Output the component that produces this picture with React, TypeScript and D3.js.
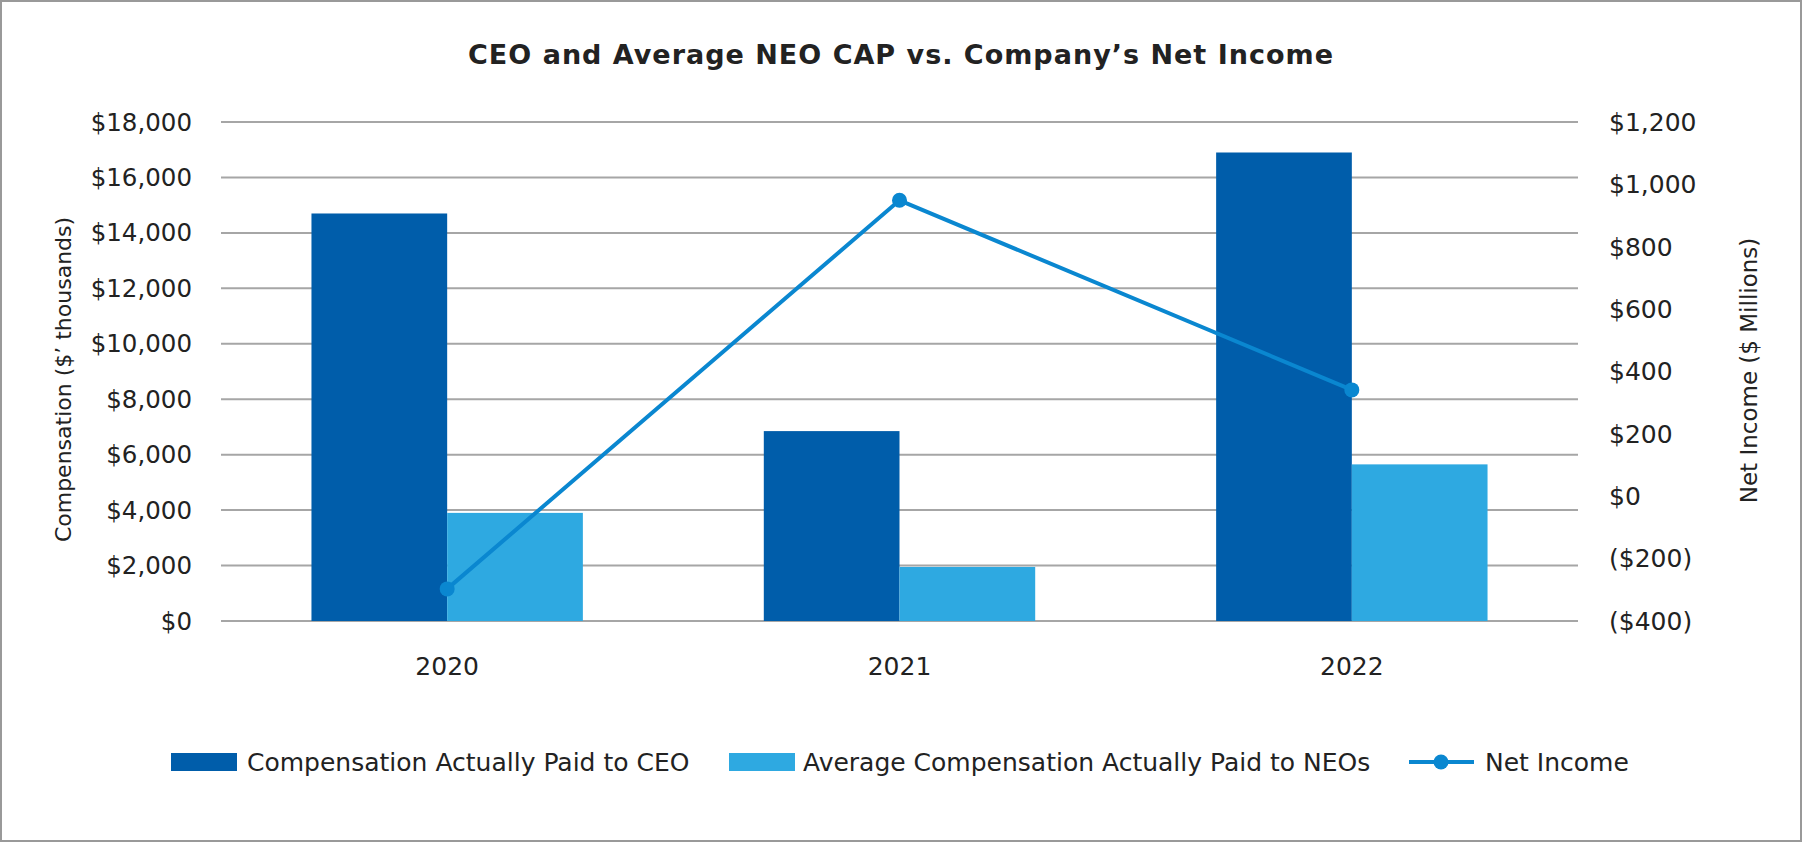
import React from "react";
import * as d3 from "d3";

// values
const years = ["2020", "2021", "2022"];
const ceoCap = [14700, 6850, 16900];
const neoCap = [3900, 1950, 5650];
const netIncome = [-297, 949, 341];

const leftTicks = [0, 2000, 4000, 6000, 8000, 10000, 12000, 14000, 16000, 18000];
const rightTicks = [-400, -200, 0, 200, 400, 600, 800, 1000, 1200];

const seriesNames = [
  "Compensation Actually Paid to CEO",
  "Average Compensation Actually Paid to NEOs",
  "Net Income",
];

const W = 1802;
const H = 842;
const FONT = "'DejaVu Sans', Verdana, sans-serif";
const CEO_COLOR = "#005DAA";
const NEO_COLOR = "#2EA9E1";
const LINE_COLOR = "#0A87D0";

const margin = { top: 122, right: 224, bottom: 221, left: 221 };

const fmtLeft = (v: number) => "$" + d3.format(",")(v);
const fmtRight = (v: number) =>
  v < 0 ? "($" + d3.format(",")(-v) + ")" : "$" + d3.format(",")(v);

const App = () => {
  const x = d3
    .scaleBand()
    .domain(years)
    .range([margin.left, W - margin.right])
    .paddingInner(0.4)
    .paddingOuter(0.2);

  const yL = d3
    .scaleLinear()
    .domain([0, 18000])
    .range([H - margin.bottom, margin.top]);

  const yR = d3
    .scaleLinear()
    .domain([-400, 1200])
    .range([H - margin.bottom, margin.top]);

  const bw = x.bandwidth() / 2;
  const cx = (y: string) => (x(y) as number) + x.bandwidth() / 2;

  const line = d3
    .line<number>()
    .x((_, i) => cx(years[i]))
    .y((d) => yR(d));

  return (
    <svg
      width={W}
      height={H}
      style={{ position: "absolute", left: 0, top: 0, background: "#fff" }}
      fontFamily={FONT}
    >
      <rect x={1} y={1} width={W - 2} height={H - 2} fill="#fff" stroke="#999" strokeWidth={2} />

      <text
        x={W / 2}
        y={64}
        textAnchor="middle"
        fontSize={27}
        fontWeight="bold"
        letterSpacing={1}
        fill="#222"
      >
        CEO and Average NEO CAP vs. Company’s Net Income
      </text>

      {/* gridlines */}
      {leftTicks.map((t) => (
        <line
          key={t}
          x1={margin.left}
          x2={W - margin.right}
          y1={yL(t)}
          y2={yL(t)}
          stroke="#a6a6a6"
          strokeWidth={2}
        />
      ))}

      {/* left ticks */}
      {leftTicks.map((t) => (
        <text
          key={"l" + t}
          x={192}
          y={yL(t)}
          dy="0.35em"
          textAnchor="end"
          fontSize={24.5}
          fill="#222"
        >
          {fmtLeft(t)}
        </text>
      ))}

      {/* right ticks */}
      {rightTicks.map((t) => (
        <text
          key={"r" + t}
          x={1609}
          y={yR(t)}
          dy="0.35em"
          textAnchor="start"
          fontSize={25}
          fill="#222"
        >
          {fmtRight(t)}
        </text>
      ))}

      <text
        transform={`translate(63,${(yL(0) + yL(18000)) / 2 + 8}) rotate(-90)`}
        dy="0.35em"
        textAnchor="middle"
        fontSize={22}
        fill="#222"
      >
        Compensation ($’ thousands)
      </text>
      <text
        transform={`translate(1749,${(yL(0) + yL(18000)) / 2 - 1}) rotate(-90)`}
        dy="0.35em"
        textAnchor="middle"
        fontSize={23}
        fill="#222"
      >
        Net Income ($ Millions)
      </text>

      {/* bars */}
      {years.map((y, i) => (
        <g key={y}>
          <rect
            x={x(y) as number}
            y={yL(ceoCap[i])}
            width={bw}
            height={yL(0) - yL(ceoCap[i])}
            fill={CEO_COLOR}
          />
          <rect
            x={(x(y) as number) + bw}
            y={yL(neoCap[i])}
            width={bw}
            height={yL(0) - yL(neoCap[i])}
            fill={NEO_COLOR}
          />
          <text
            x={cx(y)}
            y={675}
            textAnchor="middle"
            fontSize={25}
            fill="#222"
          >
            {y}
          </text>
        </g>
      ))}

      {/* net income line */}
      <path d={line(netIncome) as string} fill="none" stroke={LINE_COLOR} strokeWidth={4} />
      {netIncome.map((v, i) => (
        <circle key={i} cx={cx(years[i])} cy={yR(v)} r={7.5} fill={LINE_COLOR} />
      ))}

      {/* legend */}
      <g fontSize={25} fill="#222">
        <rect x={171} y={753} width={66} height={18} fill={CEO_COLOR} />
        <text x={247} y={762} dy="0.35em">{seriesNames[0]}</text>
        <rect x={729} y={753} width={66} height={18} fill={NEO_COLOR} />
        <text x={803} y={762} dy="0.35em">{seriesNames[1]}</text>
        <line x1={1409} x2={1474} y1={762} y2={762} stroke={LINE_COLOR} strokeWidth={4} />
        <circle cx={1441} cy={762} r={7.5} fill={LINE_COLOR} />
        <text x={1485} y={762} dy="0.35em">{seriesNames[2]}</text>
      </g>
    </svg>
  );
};

export default App;
